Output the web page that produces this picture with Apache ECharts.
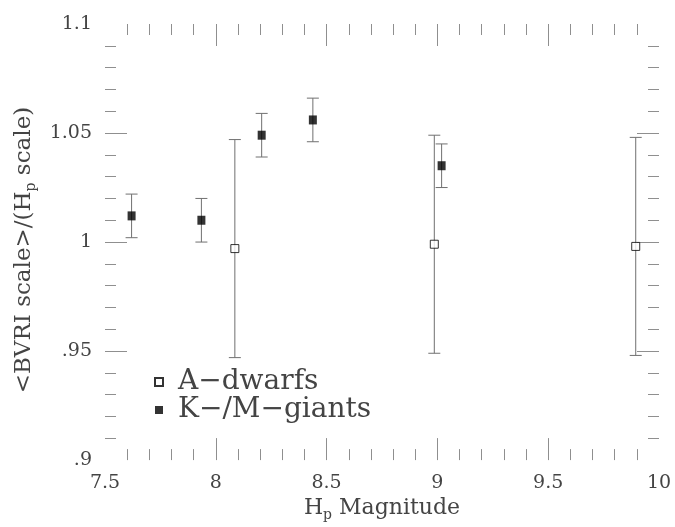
<!DOCTYPE html>
<html>
<head>
<meta charset="utf-8">
<script src="https://cdn.jsdelivr.net/npm/echarts@6/dist/echarts.min.js"></script>
<style>
  html, body { margin: 0; padding: 0; background: #fff; }
  #chart { width: 675px; height: 527px; }
</style>
</head>
<body>
<div id="chart"></div>
<script>
// ---- data ----
const giantsName = 'K\u2212/M\u2212giants';
const giantsX   = [7.62, 7.935, 8.207, 8.438, 9.019];
const giantsY   = [1.012, 1.010, 1.049, 1.056, 1.035];
const giantsErr = [0.010, 0.010, 0.010, 0.010, 0.010];

const dwarfsName = 'A\u2212dwarfs';
const dwarfsX   = [8.086, 8.986, 9.895];
const dwarfsY   = [0.997, 0.999, 0.998];
const dwarfsErr = [0.050, 0.050, 0.050];

const xTickLabels = ['7.5', '8', '8.5', '9', '9.5', '10'];
const yTickLabels = ['.9', '.95', '1', '1.05', '1.1'];
// major tick marks drawn inside the frame (the end ones are not drawn)
const xMajorTicks = [8, 8.5, 9, 9.5];
const yMajorTicks = [0.95, 1, 1.05];

// ---- build ----
const serif = 'DejaVu Serif';
const tickColor = '#8f8f8f';
const textColor = '#444';

function zip3(a, b, c) { return a.map((v, i) => [v, b[i], c[i]]); }

function errRender(params, api) {
  const x = api.value(0), y = api.value(1), e = api.value(2);
  const t = api.coord([x, y + e]);
  const b = api.coord([x, y - e]);
  const h = 6;
  const st = { stroke: '#707070', lineWidth: 1 };
  return {
    type: 'group',
    children: [
      { type: 'line', shape: { x1: t[0], y1: t[1], x2: b[0], y2: b[1] }, style: st },
      { type: 'line', shape: { x1: t[0] - h, y1: t[1], x2: t[0] + h, y2: t[1] }, style: st },
      { type: 'line', shape: { x1: b[0] - h, y1: b[1], x2: b[0] + h, y2: b[1] }, style: st }
    ]
  };
}

function xAxisCfg(pos, labels) {
  return {
    type: 'value', position: pos, min: 7.5, max: 10, interval: 0.5,
    axisLine: { show: false },
    axisTick: { show: true, inside: true, length: 22, customValues: xMajorTicks, lineStyle: { color: tickColor } },
    minorTick: { show: true, splitNumber: 5, length: 11, lineStyle: { color: tickColor } },
    splitLine: { show: false },
    axisLabel: labels ? {
      show: true, margin: 13, fontFamily: serif, fontSize: 19, color: textColor,
      formatter: (v, i) => xTickLabels[i]
    } : { show: false }
  };
}
function yAxisCfg(pos, labels) {
  return {
    type: 'value', position: pos, min: 0.9, max: 1.1, interval: 0.05,
    axisLine: { show: false },
    axisTick: { show: true, inside: true, length: 22, customValues: yMajorTicks, lineStyle: { color: tickColor } },
    minorTick: { show: true, splitNumber: 5, length: 11, lineStyle: { color: tickColor } },
    splitLine: { show: false },
    axisLabel: labels ? {
      show: true, margin: 13, fontFamily: serif, fontSize: 19, color: textColor,
      formatter: (v, i) => yTickLabels[i]
    } : { show: false }
  };
}

const xBottom = xAxisCfg('bottom', true);
xBottom.name = 'H{sub|p} Magnitude';
xBottom.nameLocation = 'middle';
xBottom.nameGap = 32;
xBottom.nameTextStyle = {
  fontFamily: serif, fontSize: 22, color: textColor,
  rich: { sub: { fontFamily: serif, fontSize: 14, color: textColor, padding: [14, 0, 0, 0] } }
};
const yLeft = yAxisCfg('left', true);
yLeft.name = '<BVRI scale>/(H{sub|p} scale){gap| }';
yLeft.nameLocation = 'middle';
yLeft.nameGap = 67;
yLeft.nameTextStyle = {
  fontFamily: serif, fontSize: 23, color: textColor,
  rich: {
    sub: { fontFamily: serif, fontSize: 14, color: textColor, padding: [14, 0, 0, 0] },
    gap: { width: 16, fontSize: 23 }
  }
};

const chart = echarts.init(document.getElementById('chart'), null, { renderer: 'canvas' });
chart.setOption({
  animation: false,
  backgroundColor: '#fff',
  grid: { left: 105, right: 16, top: 24, bottom: 55, containLabel: false },
  xAxis: [xBottom, xAxisCfg('top', false)],
  yAxis: [yLeft, yAxisCfg('right', false)],
  legend: {
    data: [dwarfsName, giantsName],
    orient: 'vertical', left: 154, top: 368, padding: 0,
    itemWidth: 8, itemHeight: 8, itemGap: 0, selectedMode: false,
    textStyle: { fontFamily: serif, fontSize: 28, color: textColor, lineHeight: 25, padding: [0, 0, 0, 10] }
  },
  series: [
    { type: 'custom', name: 'err-d', data: zip3(dwarfsX, dwarfsY, dwarfsErr), renderItem: errRender, z: 1, silent: true },
    { type: 'custom', name: 'err-g', data: zip3(giantsX, giantsY, giantsErr), renderItem: errRender, z: 1, silent: true },
    {
      type: 'scatter', name: dwarfsName, symbol: 'rect', symbolSize: 8, z: 3,
      itemStyle: { color: '#fff', borderColor: '#000', borderWidth: 1 },
      data: dwarfsX.map((x, i) => [x, dwarfsY[i]])
    },
    {
      type: 'scatter', name: giantsName, symbol: 'rect', symbolSize: [8, 9], z: 3,
      itemStyle: { color: '#000' },
      data: giantsX.map((x, i) => [x, giantsY[i]])
    }
  ]
});
</script>
</body>
</html>
